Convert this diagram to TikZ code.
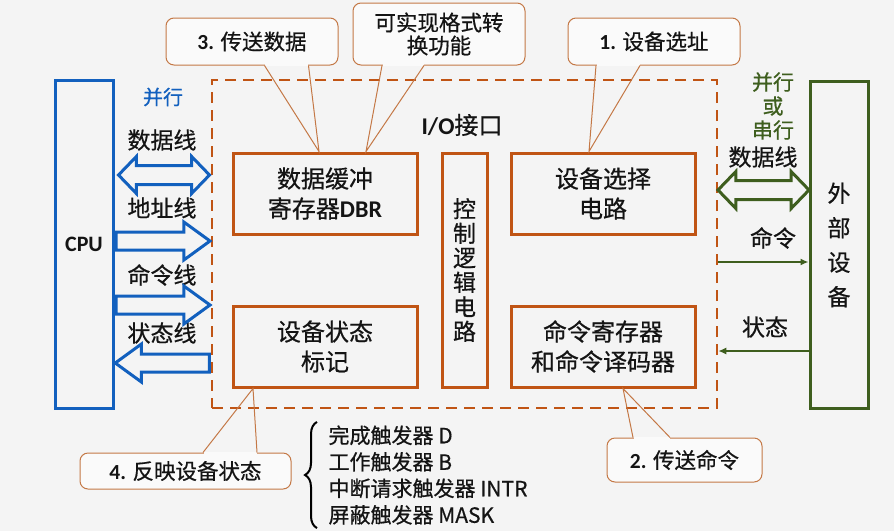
\documentclass[tikz,border=0pt]{standalone}
\usepackage{fontspec}
\setmainfont{Noto Sans CJK SC}[FakeBold=0.6]
\newfontfamily\carl{Carlito}
\usetikzlibrary{positioning,arrows.meta,shapes.arrows,decorations.pathreplacing,calc}
\definecolor{BgGray}{RGB}{244,244,244}
\definecolor{CallFill}{RGB}{250,250,250}
\definecolor{CpuBlue}{RGB}{18,96,190}
\definecolor{BoxOrange}{RGB}{192,84,20}
\definecolor{CallOrange}{RGB}{196,120,70}
\definecolor{DevGreen}{RGB}{62,94,30}
\definecolor{DarkText}{RGB}{20,20,20}
\newcommand{\latb}[1]{{\carl\bfseries #1}}
\newcommand{\fsz}[2]{\fontsize{#1}{#2}\selectfont}

\begin{document}
\begin{tikzpicture}[x=1pt, y=-1pt,
    unit/.style={rectangle, draw=BoxOrange, line width=3pt, minimum width=184pt, minimum height=81pt,
        font=\fsz{24}{30}, text=DarkText, align=center},
    callout/.style={rectangle, rounded corners=8pt, draw=CallOrange, line width=1pt, fill=CallFill,
        font=\fsz{21.5}{23}, text=DarkText, align=center},
    wedge/.style={draw=CallOrange, line width=1pt},
    busname/.style={font=\fsz{23}{25}, text=DarkText, align=center},
    cpubus/.style={single arrow, draw=CpuBlue, line width=3pt, fill=BgGray, inner xsep=0pt, inner ysep=7.5pt,
        minimum height=94pt, single arrow head extend=10pt, single arrow tip angle=72},
    databus/.style={double arrow, line width=3pt, fill=BgGray, inner xsep=0pt, inner ysep=8pt,
        minimum height=91pt, double arrow head extend=9pt, double arrow tip angle=92},
    devline/.style={DevGreen, line width=1.5pt, -{Latex[length=8pt,width=7pt]}}
]
\fill[BgGray] (0,0) rectangle (894,531);
\useasboundingbox (0,0) rectangle (894,531);

% CPU, interface and device
\node[rectangle, draw=CpuBlue, line width=3pt, minimum width=58pt, minimum height=328pt,
    font=\fsz{22}{24}, text=DarkText] (cpu) at (84,244) {\latb{CPU}};
\node[rectangle, draw=BoxOrange, line width=2.5pt, dash pattern=on 11pt off 7pt,
    minimum width=505pt, minimum height=328pt] (io) at (464.5,244) {};
\node[rectangle, draw=DevGreen, line width=3pt, minimum width=58pt, minimum height=327pt,
    font=\fsz{23}{34.5}, text=DarkText, align=center] (dev) at (839,245) {外\\部\\设\\备};

\node[font=\fsz{24}{26}, text=DarkText] (iolab) at (462,125) {\latb{I/O}接口};
\node[unit] (dbr) at (325,193.5) {数据缓冲\\寄存器\latb{DBR}};
\node[unit] (sel) at (603,193.5) {设备选择\\电路};
\node[unit] (sta) at (325,346.5) {设备状态\\标记};
\node[unit] (cmdr) at (603,346.5) {命令寄存器\\和命令译码器};
\node[unit, minimum width=45pt, minimum height=234pt, font=\fsz{23}{24.5}] (ctl) at (464.5,270) {控\\制\\逻\\辑\\电\\路};

% CPU side buses
\node[busname, text=CpuBlue, font=\fsz{20}{22}] (par) at (163,97) {并行};
\node[busname] (ldata) at (162,140) {数据线};
\node[busname] (laddr) at (162,208) {地址线};
\node[busname] (lcmd) at (162,275) {命令线};
\node[busname] (lstat) at (162,333) {状态线};
\node[databus, draw=CpuBlue] (dbus) at (164,175) {};
\node[cpubus, anchor=tail] (abus) at (cpu.east |- 0,241) {};
\node[cpubus, anchor=tail] (cbus) at (cpu.east |- 0,305) {};
\node[cpubus, anchor=tail, shape border rotate=180] (sbus) at (io.west |- 0,363) {};

% device side
\node[busname, text=DevGreen, font=\fsz{21}{24}] (serial) at (773,106) {并行\\或\\串行};
\node[busname] (rdata) at (763,157) {数据线};
\node[databus, draw=DevGreen] (pbus) at (763.5,190) {};
\node[busname] (rcmd) at (773,238) {命令};
\node[busname] (rstat) at (765,327) {状态};
\draw[devline] (io.east |- 0,262) -- (dev.west |- 0,262);
\draw[devline] (dev.west |- 0,351) -- (io.east |- 0,351);

% callouts
\node[callout, minimum width=172pt, minimum height=47pt] (c3) at (252,41.5) {\latb{3.} 传送数据};
\node[callout, minimum width=172pt, minimum height=62pt] (cfmt) at (439,34) {可实现格式转\\换功能};
\node[callout, minimum width=172pt, minimum height=47pt] (c1) at (654,41.5) {\latb{1.} 设备选址};
\node[callout, minimum width=211pt, minimum height=36pt] (c4) at (185.5,471) {\latb{4.} 反映设备状态};
\node[callout, minimum width=155pt, minimum height=44pt] (c2) at (684.5,460) {\latb{2.} 传送命令};

\fill[CallFill] ($(c3.south west)+(99.5,-1.3)$) rectangle ($(c3.south west)+(142.5,0.3)$);
\draw[wedge] ($(c3.south west)+(99,0)$) -- ($(dbr.north west)+(87.5,0)$) -- ($(c3.south west)+(143,0)$);
\fill[CallFill] ($(cfmt.south west)+(30,-1.3)$) rectangle ($(cfmt.south west)+(71,0.3)$);
\draw[wedge] ($(cfmt.south west)+(29.5,0)$) -- ($(dbr.north west)+(134.5,0)$) -- ($(cfmt.south west)+(71.5,0)$);
\fill[CallFill] ($(c1.south west)+(29,-1.3)$) rectangle ($(c1.south west)+(72,0.3)$);
\draw[wedge] ($(c1.south west)+(28.5,0)$) -- ($(sel.north west)+(79.5,0)$) -- ($(c1.south west)+(72.5,0)$);
\fill[CallFill] ($(c4.north west)+(124,-0.3)$) rectangle ($(c4.north west)+(177,1.3)$);
\draw[wedge] ($(c4.north west)+(123.5,0)$) -- ($(sta.south west)+(21.5,0)$) -- ($(c4.north west)+(177.5,0)$);
\fill[CallFill] ($(c2.north west)+(27,-0.3)$) rectangle ($(c2.north west)+(63,1.3)$);
\draw[wedge] ($(c2.north west)+(26.5,0)$) -- ($(cmdr.south west)+(113.5,0)$) -- ($(c2.north west)+(63.5,0)$);

% flip-flops
\node[anchor=west, align=left, font=\fsz{21}{26.5}, text=DarkText] (flags) at (325,475)
    {完成触发器 D\\工作触发器 B\\中断请求触发器 INTR\\屏蔽触发器 MASK};
\draw[line width=2pt, decorate, decoration={brace, amplitude=12pt}]
    ($(flags.south west)+(-8,0)$) -- ($(flags.north west)+(-8,0)$);
\end{tikzpicture}
\end{document}
